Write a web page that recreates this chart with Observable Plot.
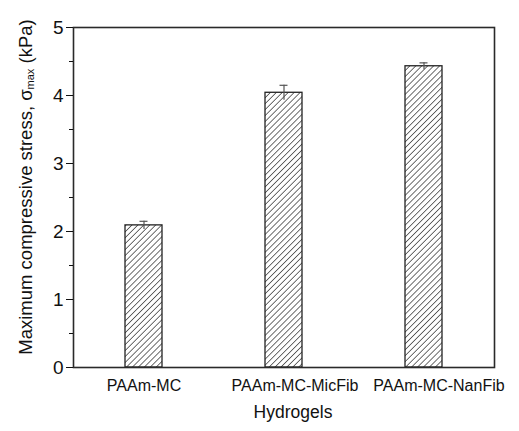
<!DOCTYPE html>
<html>
<head>
<meta charset="utf-8">
<script src="https://cdn.jsdelivr.net/npm/d3@7"></script>
<script src="https://cdn.jsdelivr.net/npm/@observablehq/plot@0.6"></script>
<style>
  html, body { margin: 0; padding: 0; background: #fff; }
</style>
</head>
<body>
<div id="chart"></div>
<script>
// Maximum compressive stress of the three hydrogels (kPa)
const groups = ["PAAm-MC", "PAAm-MC-MicFib", "PAAm-MC-NanFib"];
const stress = [2.09, 4.04, 4.43];
const stressErr = [0.06, 0.11, 0.05];
const yMajor = [0, 1, 2, 3, 4, 5];
const yMinor = [0.5, 1.5, 2.5, 3.5, 4.5];

const data = groups.map((g, i) => ({group: g, value: stress[i], err: stressErr[i]}));

const font = "'Liberation Sans', Arial, Helvetica, sans-serif";

// horizontal nudges for the category labels
const labelShift = [0, 11, 15];

const chart = Plot.plot({
  width: 519,
  height: 431,
  marginLeft: 73,
  marginRight: 25,
  marginTop: 27,
  marginBottom: 64,
  style: {fontFamily: font, background: "#fff", color: "#111"},
  x: {domain: groups, paddingInner: 0.736, paddingOuter: 0.368, axis: null},
  y: {domain: [0, 5], axis: null},
  marks: [
    Plot.barY(data, {x: "group", y: "value", fill: "url(#hatch)", stroke: "#222", strokeWidth: 1.3}),
    Plot.ruleX(data, {x: "group", y1: d => d.value - d.err, y2: d => d.value + d.err, stroke: "#555", strokeWidth: 1.2}),
    Plot.tickY(data, {x: "group", y: d => d.value + d.err, stroke: "#555", strokeWidth: 1.2, insetLeft: 14.5, insetRight: 14.5}),
    Plot.frame({stroke: "#2a2a2a", strokeWidth: 1.6}),
    Plot.axisY({ticks: yMajor, tickSize: 7, tickPadding: 3, fontSize: 19, label: null, tickFormat: d3.format("d")}),
    Plot.axisY({ticks: yMinor, tickSize: 4, text: null, label: null}),
    ...groups.map((g, i) => Plot.text([g], {
      x: d => d, frameAnchor: "bottom", lineAnchor: "top", dy: 12, dx: labelShift[i],
      fontSize: 16, fill: "#111"
    })),
    Plot.text(["Hydrogels"], {frameAnchor: "bottom", dy: 50, dx: 9, fontSize: 17.5, fill: "#111"})
  ]
});

document.getElementById("chart").appendChild(chart);

// Diagonal hatch used as bar fill
d3.select(chart).insert("defs", ":first-child").html(`
  <pattern id="hatch" patternUnits="userSpaceOnUse" width="4.2" height="4.2" patternTransform="rotate(45)">
    <rect width="4.2" height="4.2" fill="#fff"></rect>
    <line x1="0" y1="0" x2="0" y2="4.2" stroke="#1a1a1a" stroke-width="1.25"></line>
  </pattern>`);

// Rotated y-axis title with subscript
const yCenter = (27 + 367) / 2;
const yt = d3.select(chart).append("text")
  .attr("transform", `translate(27,${yCenter - 10}) rotate(-90)`)
  .attr("text-anchor", "middle")
  .attr("dominant-baseline", "middle")
  .attr("font-family", font)
  .attr("font-size", 18.5)
  .attr("fill", "#111");
yt.append("tspan").text("Maximum compressive stress, σ");
yt.append("tspan").attr("font-size", 11).attr("dy", 4).text("max");
yt.append("tspan").attr("dy", -4).text(" (kPa)");
</script>
</body>
</html>
